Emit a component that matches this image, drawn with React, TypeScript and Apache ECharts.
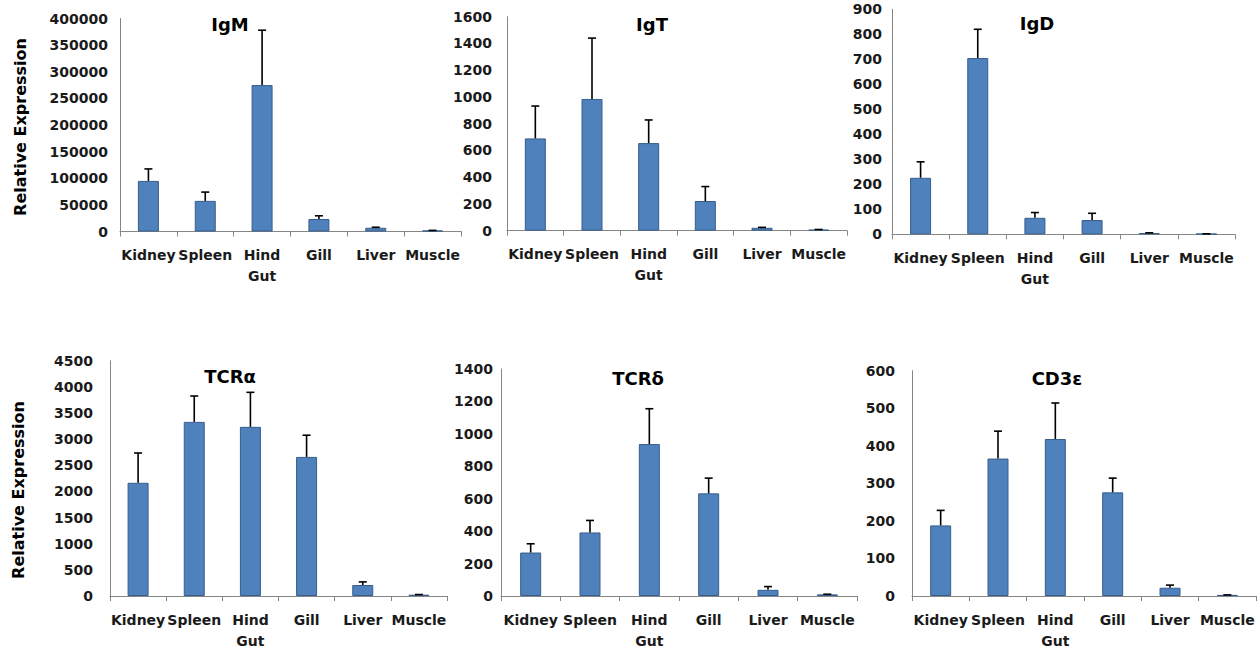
import React, { useEffect, useRef } from "react";
import * as echarts from "echarts";

// ---- data ----
const categories = ["Kidney", "Spleen", "Hind\nGut", "Gill", "Liver", "Muscle"];

const panelNames = ["IgM", "IgT", "IgD", "TCRα", "TCRδ", "CD3ε"];

const igmValues = [95000, 57500, 275000, 23500, 7000, 1900];
const igmErrors = [22500, 16500, 103000, 6000, 1000, 200];

const igtValues = [690, 985, 655, 222, 22, 8];
const igtErrors = [242, 455, 173, 108, 3, 1];

const igdValues = [226, 705, 66, 57, 5, 2];
const igdErrors = [64, 115, 21, 27, 1, 0];

const tcraValues = [2165, 3330, 3235, 2660, 210, 25];
const tcraErrors = [570, 495, 660, 415, 60, 3];

const tcrdValues = [268, 392, 937, 633, 38, 10];
const tcrdErrors = [54, 74, 218, 94, 20, 1];

const cd3eValues = [188, 366, 418, 276, 22, 3];
const cd3eErrors = [40, 73, 96, 38, 7, 0];

const yMaxes = [400000, 1600, 900, 4500, 1400, 600];
const yIntervals = [50000, 200, 100, 500, 200, 100];

const yAxisTitle = "Relative Expression";

const allValues = [igmValues, igtValues, igdValues, tcraValues, tcrdValues, cd3eValues];
const allErrors = [igmErrors, igtErrors, igdErrors, tcraErrors, tcrdErrors, cd3eErrors];

// ---- layout (pixels) ----
const layout = [
  { left: 120, top: 18.5, width: 341, height: 213, labelMargin: 12, tx: 230, ty: 24 },
  { left: 507, top: 16.7, width: 340, height: 214, labelMargin: 15, tx: 652, ty: 24 },
  { left: 892, top: 9.3, width: 343, height: 225, labelMargin: 10, tx: 1037, ty: 23 },
  { left: 110, top: 360.7, width: 337, height: 237.6, labelMargin: 17, tx: 230, ty: 376 },
  { left: 501, top: 369, width: 356, height: 231.7, labelMargin: 8, tx: 638, ty: 378 },
  { left: 912, top: 370.7, width: 344, height: 230.3, labelMargin: 17, tx: 1057, ty: 378 },
];
const yTitlePos = [
  { x: 20, y: 127 },
  { x: 18, y: 490 },
];

const FONT = "'DejaVu Sans', sans-serif";
const BAR_COLOR = "#4F81BD";
const BAR_BORDER = "#385D8A";
const AXIS_COLOR = "#868686";
const TEXT_COLOR = "#1a1a1a";

function buildOption() {
  const grid: any[] = [];
  const xAxis: any[] = [];
  const yAxis: any[] = [];
  const series: any[] = [];
  const graphic: any[] = [];

  layout.forEach((l, i) => {
    grid.push({ left: l.left, top: l.top, width: l.width, height: l.height, containLabel: false });
    xAxis.push({
      type: "category",
      gridIndex: i,
      data: categories,
      axisLine: { show: true, lineStyle: { color: AXIS_COLOR, width: 1 } },
      axisTick: { show: true, length: 5, lineStyle: { color: AXIS_COLOR } },
      axisLabel: {
        interval: 0,
        margin: 13,
        color: TEXT_COLOR,
        fontFamily: FONT,
        fontWeight: "bold",
        fontSize: 14,
        lineHeight: 21,
      },
      splitLine: { show: false },
    });
    yAxis.push({
      type: "value",
      gridIndex: i,
      min: 0,
      max: yMaxes[i],
      interval: yIntervals[i],
      axisLine: { show: true, lineStyle: { color: AXIS_COLOR, width: 1 } },
      axisTick: { show: false },
      axisLabel: {
        margin: l.labelMargin,
        color: TEXT_COLOR,
        fontFamily: FONT,
        fontWeight: "bold",
        fontSize: 14,
        formatter: (v: number) => String(v),
      },
      splitLine: { show: false },
    });
    series.push({
      type: "bar",
      name: panelNames[i],
      xAxisIndex: i,
      yAxisIndex: i,
      data: allValues[i],
      barWidth: 21,
      itemStyle: { color: BAR_COLOR, borderColor: BAR_BORDER, borderWidth: 1 },
      z: 2,
    });
    series.push({
      type: "custom",
      name: panelNames[i] + " error",
      xAxisIndex: i,
      yAxisIndex: i,
      z: 3,
      encode: { x: 0, y: 2 },
      data: allValues[i].map((v, k) => [k, v, v + allErrors[i][k]]),
      renderItem: (params: any, api: any) => {
        const idx = api.value(0);
        const p0 = api.coord([idx, api.value(1)]);
        const p1 = api.coord([idx, api.value(2)]);
        const style = { stroke: "#000", lineWidth: 1.6 };
        return {
          type: "group",
          children: [
            { type: "line", shape: { x1: p0[0], y1: p0[1], x2: p1[0], y2: p1[1] }, style },
            { type: "line", shape: { x1: p1[0] - 4, y1: p1[1], x2: p1[0] + 4, y2: p1[1] }, style },
          ],
        };
      },
    });
    graphic.push({
      type: "text",
      x: l.tx,
      y: l.ty,
      style: {
        text: panelNames[i],
        fill: "#000",
        font: `bold 18px ${FONT}`,
        align: "center",
        verticalAlign: "middle",
      },
    });
  });

  yTitlePos.forEach((p) => {
    graphic.push({
      type: "text",
      x: p.x,
      y: p.y,
      rotation: Math.PI / 2,
      style: {
        text: yAxisTitle,
        fill: "#000",
        font: `bold 16px ${FONT}`,
        align: "center",
        verticalAlign: "middle",
      },
    });
  });

  return {
    animation: false,
    backgroundColor: "#ffffff",
    grid,
    xAxis,
    yAxis,
    series,
    graphic,
  };
}

export default function App() {
  const ref = useRef<HTMLDivElement>(null);
  useEffect(() => {
    if (!ref.current) return;
    const chart = echarts.init(ref.current, undefined, { renderer: "svg" });
    chart.setOption(buildOption() as any);
    return () => chart.dispose();
  }, []);
  return (
    <div
      ref={ref}
      style={{ position: "absolute", left: 0, top: 0, width: 1260, height: 651 }}
    />
  );
}
